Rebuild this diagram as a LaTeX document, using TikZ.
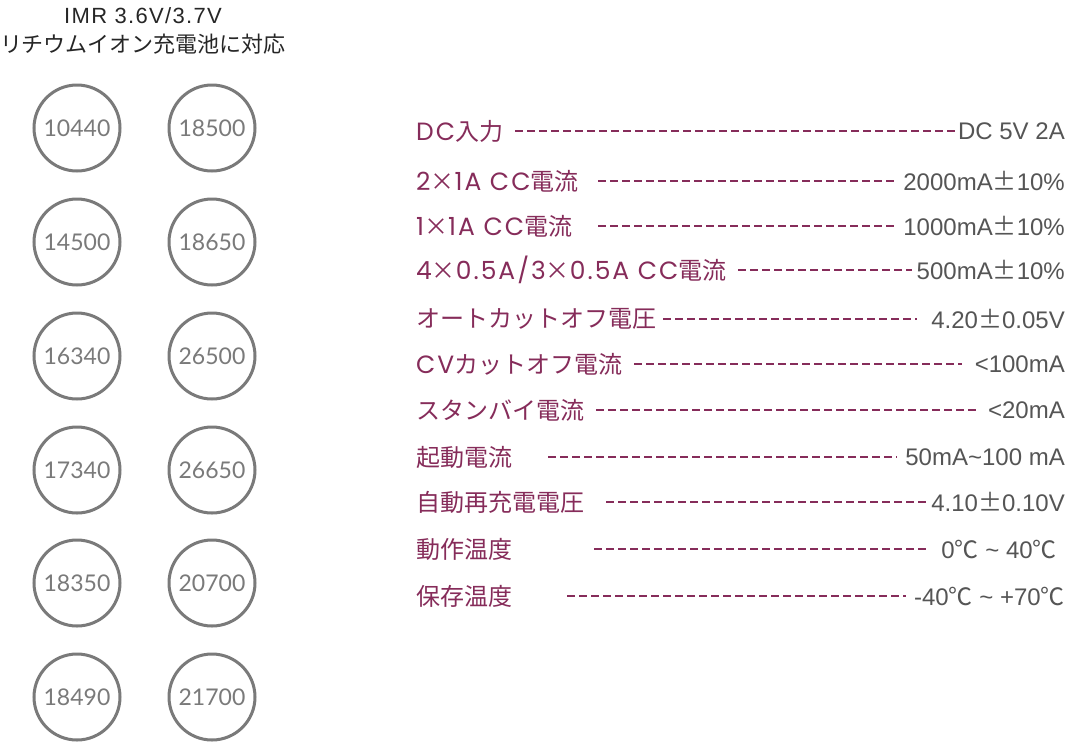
\documentclass[tikz,border=0pt]{standalone}
\usepackage{fontspec}
\setmainfont{Noto Sans CJK JP}
\newfontfamily\numfont{Lato}
\newfontfamily\lat[LetterSpace=8,Scale=1.04]{Poppins}
\newfontfamily\ttlat[LetterSpace=6]{Liberation Sans}
\newfontfamily\vlat{Liberation Sans}
\definecolor{lab}{HTML}{862C5A}
\definecolor{val}{HTML}{555555}
\definecolor{ring}{HTML}{7A7A7A}
\begin{document}
\begin{tikzpicture}[x=1pt,y=-1pt,
  cell/.style={circle,draw=ring,line width=3pt,minimum size=86pt,inner sep=0pt,
    text=ring,font=\numfont\fontsize{23}{26}\selectfont},
  lbl/.style={anchor=west,inner sep=0pt,text=lab,font=\fontsize{24}{28}\selectfont},
  vlu/.style={anchor=east,inner sep=0pt,text=val,font=\vlat\fontsize{24}{28}\selectfont},
  dashline/.style={draw=lab,line width=2pt,dash pattern=on 7.5pt off 4.5pt},
  ttl/.style={inner sep=0pt,text=black!85}]
\useasboundingbox (0,0) rectangle (1071,748);
\fill[white] (0,0) rectangle (1071,748);
% title
\node[ttl,font=\ttlat\fontsize{22}{26}\selectfont] (t1) at (143,16) {IMR 3.6V/3.7V};
\node[ttl,font=\fontsize{22}{26}\selectfont] (t2) at (143,44) {リチウムイオン充電池に対応};
% circles
\node[cell] (c1) at (77,128) {10440};
\node[cell] (c2) at (212,128) {18500};
\node[cell] (c3) at (77,242) {14500};
\node[cell] (c4) at (212,242) {18650};
\node[cell] (c5) at (77,356) {16340};
\node[cell] (c6) at (212,356) {26500};
\node[cell] (c7) at (77,470) {17340};
\node[cell] (c8) at (212,470) {26650};
\node[cell] (c9) at (77,583) {18350};
\node[cell] (c10) at (212,583) {20700};
\node[cell] (c11) at (77,697) {18490};
\node[cell] (c12) at (212,697) {21700};
% labels
\node[lbl] (l1) at (416,131) {{\lat DC}入力};
\node[lbl] (l2) at (416,181) {{\lat 2}×{\lat 1A CC}電流};
\node[lbl] (l3) at (416,226) {{\lat 1}×{\lat 1A CC}電流};
\node[lbl] (l4) at (416,270) {{\lat 4}×{\lat 0.5A/3}×{\lat 0.5A CC}電流};
\node[lbl] (l5) at (416,319) {オートカットオフ電圧};
\node[lbl] (l6) at (416,364) {{\lat CV}カットオフ電流};
\node[lbl] (l7) at (416,410) {スタンバイ電流};
\node[lbl] (l8) at (416,457) {起動電流};
\node[lbl] (l9) at (416,502) {自動再充電電圧};
\node[lbl] (l10) at (416,549) {動作温度};
\node[lbl] (l11) at (416,596) {保存温度};
% values
\node[vlu] (v1) at (1065,131) {DC 5V 2A};
\node[vlu] (v2) at (1065,181) {2000mA{\rmfamily ±}10\%};
\node[vlu] (v3) at (1065,226) {1000mA{\rmfamily ±}10\%};
\node[vlu] (v4) at (1065,270) {500mA{\rmfamily ±}10\%};
\node[vlu] (v5) at (1065,319) {4.20{\rmfamily ±}0.05V};
\node[vlu] (v6) at (1065,364) {<100mA};
\node[vlu] (v7) at (1065,410) {<20mA};
\node[vlu] (v8) at (1065,457) {50mA\textasciitilde 100 mA};
\node[vlu] (v9) at (1065,502) {4.10{\rmfamily ±}0.10V};
\node[vlu] (v10) at (1057,549) {0{\rmfamily ℃} \textasciitilde{} 40{\rmfamily ℃}};
\node[vlu] (v11) at (1065,596) {-40{\rmfamily ℃} \textasciitilde{} +70{\rmfamily ℃}};
% dash starts
\coordinate (s1) at (515,131);
\coordinate (s2) at (598,181);
\coordinate (s3) at (598,226);
\coordinate (s4) at (738,270);
\coordinate (s5) at (663,319);
\coordinate (s6) at (634,364);
\coordinate (s7) at (596,410);
\coordinate (s8) at (548,457);
\coordinate (s9) at (606,502);
\coordinate (s10) at (594,549);
\coordinate (s11) at (567,596);
\draw[dashline] (s1) -- (v1.west);
\draw[dashline,shorten >=6pt] (s2) -- (v2.west);
\draw[dashline,shorten >=6pt] (s3) -- (v3.west);
\draw[dashline,shorten >=5pt] (s4) -- (v4.west);
\draw[dashline,shorten >=14pt] (s5) -- (v5.west);
\draw[dashline,shorten >=13pt] (s6) -- (v6.west);
\draw[dashline,shorten >=12pt] (s7) -- (v7.west);
\draw[dashline,shorten >=8pt] (s8) -- (v8.west);
\draw[dashline,shorten >=5pt] (s9) -- (v9.west);
\draw[dashline,shorten >=12pt] (s10) -- (v10.west);
\draw[dashline,shorten >=8pt] (s11) -- (v11.west);
\end{tikzpicture}
\end{document}
